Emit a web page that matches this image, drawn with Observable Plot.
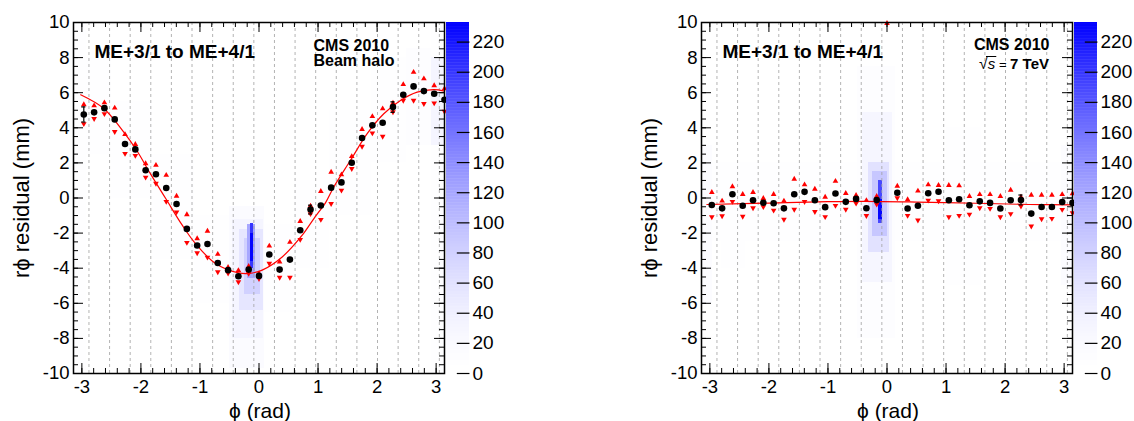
<!DOCTYPE html>
<html><head><meta charset="utf-8">
<script src="https://cdn.jsdelivr.net/npm/d3@7"></script>
<script src="https://cdn.jsdelivr.net/npm/@observablehq/plot@0.6"></script>
<style>
body{margin:0;background:#fff;}
#root{position:relative;width:1134px;height:421px;overflow:hidden;font-family:"Liberation Sans",Arial,Helvetica,sans-serif;}
#root svg{position:absolute;top:0;overflow:visible;}
</style></head><body><div id="root"></div>
<script>
// ---- data ----
const binCentersDeg = [-170,-160,-150,-140,-130,-120,-110,-100,-90,-80,-70,-60,-50,-40,-30,-20,-10,0,10,20,30,40,50,60,70,80,90,100,110,120,130,140,150,160,170,180];
const chamberEdgesDeg = [-165,-145,-125,-105,-85,-65,-45,-25,-5,15,35,55,75,95,115,135,155,175];

const leftMean = [4.76,4.88,5.12,4.48,3.08,2.77,1.58,1.35,0.57,-0.34,-1.76,-2.71,-2.62,-3.70,-4.11,-4.46,-4.08,-4.44,-3.22,-4.08,-3.51,-1.84,-0.66,-0.43,0.59,0.89,2.01,3.42,4.14,4.29,5.18,5.88,6.36,6.09,5.94,5.60];
const leftUp   = [5.32,5.26,5.43,5.13,3.62,3.06,1.96,1.87,1.30,0.11,-0.94,-2.31,-1.88,-3.20,-3.95,-4.13,-3.89,-4.30,-2.73,-3.64,-2.52,-1.33,-0.45,0.38,1.48,1.33,2.37,3.91,4.65,5.09,5.41,6.47,7.17,6.80,6.41,6.23];
const leftDown = [4.23,4.52,4.80,3.78,2.53,2.42,1.18,0.83,-0.20,-0.80,-2.54,-3.13,-3.38,-4.21,-4.28,-4.78,-4.30,-4.60,-3.73,-4.53,-4.53,-2.37,-0.90,-1.23,-0.32,0.44,1.67,2.94,3.70,3.51,4.90,5.56,5.56,5.37,5.41,4.93];
const leftErr  = [0.43,0.07,0.07,0.07,0.07,0.07,0.07,0.07,0.07,0.07,0.07,0.07,0.07,0.07,0.07,0.07,0.07,0.07,0.07,0.07,0.07,0.07,0.25,0.07,0.07,0.07,0.07,0.07,0.07,0.07,0.30,0.07,0.07,0.07,0.07,0.07];
const leftFitPhi = [-3.02,-2.63,-2.29,-2.06,-1.84,-1.58,-1.30,-1.075,-0.737,-0.342,-0.17,0.054,0.393,0.732,0.93,1.13,1.267,1.55,1.832,2.113,2.396,2.679,2.96,3.14];
const leftFitVal = [5.88,5.10,3.75,2.65,1.39,-0.03,-1.55,-2.60,-3.73,-4.27,-4.30,-4.11,-3.36,-2.12,-1.17,-0.25,0.63,2.15,3.67,4.80,5.56,6.03,6.17,6.09];

const rightMean = [-0.40,-0.59,0.21,-0.44,-0.13,-0.27,-0.30,-0.59,0.21,0.35,-0.13,-0.52,0.26,-0.22,-0.05,-0.58,-0.12,null,0.30,-0.60,-0.44,0.27,0.36,-0.13,-0.07,-0.41,-0.19,-0.28,-0.60,-0.13,-0.11,-0.89,-0.51,-0.51,-0.23,-0.28];
const rightUp   = [0.32,-0.17,0.65,0.21,0.32,-0.02,0.21,-0.17,1.08,0.76,0.51,0.05,0.96,0.27,0.15,-0.14,0.10,9.95,0.68,-0.09,0.40,0.76,0.72,0.72,0.70,0.10,0.20,0.20,0.10,0.45,0.05,0.17,0.17,0.17,0.20,0.25];
const rightDown = [-1.08,-1.02,-0.20,-1.05,-0.57,-0.50,-0.70,-1.22,-0.65,-0.21,-0.78,-1.07,-0.43,-0.65,-0.30,-1.01,-0.35,null,0.00,-1.00,-1.26,-0.13,-0.17,-1.08,-1.00,-0.93,-0.57,-0.60,-1.08,-0.90,-0.47,-1.61,-1.19,-1.17,-0.66,-0.85];
const rightErr  = [0.12,0.06,0.06,0.06,0.06,0.06,0.06,0.06,0.06,0.06,0.06,0.06,0.06,0.06,0.06,0.06,0.06,0.06,0.06,0.06,0.06,0.06,0.06,0.06,0.06,0.06,0.06,0.06,0.06,0.06,0.28,0.06,0.06,0.06,0.06,0.06];
const rightFitPhi = [-3.05,-2.0,-1.0,-0.4,0.5,1.5,2.4,3.14];
const rightFitVal = [-0.37,-0.29,-0.21,-0.19,-0.23,-0.30,-0.37,-0.39];

// 2D histogram regions: [phi1, phi2, resid1, resid2, entries]
const leftCells = [
  [-3.14,-2.92,-10,10,8],[2.92,3.14,-10,10,8],
  [-3.14,-2.5,2.5,8,8],[-2.5,-1.8,0,5.5,7],[-1.8,-1.1,-3.5,2.5,7],[-1.1,-0.5,-6,-1,8],
  [0.1,0.6,-6.5,-1.5,8],[0.6,1.2,-4,1,7],[1.2,1.9,-1,5,8],[1.9,2.5,2,8,8],[2.5,2.92,3,8.5,12],[2.92,3.14,3,8,30],
  [-0.5,0.1,-9.7,-0.5,18],[-0.45,0.08,-8,-1.2,30],[-0.33,0.08,-6.4,-1.8,55],[-0.25,0.03,-5.5,-2.3,80],
  [-0.2,-0.06,-4.6,-1.5,120],[-0.144,-0.088,-4.0,-1.45,200],[-0.144,-0.088,-3.6,-2.0,230]
];
const rightCells = [
  [-3.14,3.14,-2.5,2,5],[-3.14,-2.95,-6,3,15],[2.95,3.14,-5,3,15],[-2.8,-2.4,-4,2,6],[1.0,1.6,-5,4,6],
  [-0.5,0.15,-8,7.5,12],[-0.42,0.1,-4.8,4.9,28],[-0.32,0.05,-3.1,2.0,60],[-0.25,0.0,-2.2,1.5,90],
  [-0.15,-0.07,-1.48,0.99,190],[-0.15,-0.07,-1.2,-0.1,230]
];

const yTickLabels = [-10,-8,-6,-4,-2,0,2,4,6,8,10];
const xTickLabels = [-3,-2,-1,0,1,2,3];
const colorbarTicks = [0,20,40,60,80,100,120,140,160,180,200,220];
const colorMax = 233;

// ---- drawing ----
const FONT = "Liberation Sans, Arial, Helvetica, DejaVu Sans, sans-serif";
const deg = Math.PI / 180;
const W = 371, H = 351;
const colorOpts = {type: "pow", exponent: 1.6, domain: [0, colorMax], clamp: true,
  interpolate: t => d3.interpolateRgb("#ffffff", "#0000ff")(t)};
const yMinor = d3.range(-10, 10.001, 0.5);
const xMinor = d3.range(-3.2, 3.21, 0.2).filter(v => Math.abs(v) <= Math.PI);

function panel(o) {
  const pts = binCentersDeg.map((d, i) => ({phi: d * deg, mean: o.mean[i], up: o.up[i], down: o.down[i], err: o.err[i]}));
  const ptsM = pts.filter(d => d.mean != null);
  const cells = o.cells.map(([a, b, c, d, n]) => ({x1: a, x2: b, y1: c, y2: d, n}));
  const fit = o.fitPhi.map((p, i) => ({phi: p, v: o.fitVal[i]}));
  const txt = (s, opt) => Plot.text([s], Object.assign({text: d => d, fill: "black", fontFamily: FONT}, opt));
  return Plot.plot({
    width: 446, height: 421, marginLeft: 73, marginRight: 2, marginTop: 22, marginBottom: 48,
    style: {fontFamily: FONT, background: "transparent", overflow: "visible", maxWidth: "none"},
    x: {domain: [-Math.PI, Math.PI]},
    y: {domain: [-10, 10]},
    color: colorOpts,
    marks: [
      Plot.rect(cells, {x1: "x1", x2: "x2", y1: "y1", y2: "y2", fill: "n", shapeRendering: "crispEdges"}),
      Plot.ruleX(chamberEdgesDeg.map(d => d * deg), {stroke: "#a0a0a0", strokeDasharray: "3,3", strokeWidth: 0.8}),
      Plot.line(fit, {x: "phi", y: "v", stroke: "#ff0000", strokeWidth: 1.2, curve: "catmull-rom"}),
      Plot.dot(pts.filter(d => d.up != null), {x: "phi", y: "up", symbol: "triangle", r: 2.1, fill: "#ff0000", stroke: "none"}),
      Plot.dot(pts.filter(d => d.down != null), {x: "phi", y: "down", symbol: "triangle", r: 2.1, fill: "#ff0000", stroke: "none", rotate: 180}),
      Plot.ruleX(ptsM, {x: "phi", y1: d => d.mean - d.err, y2: d => d.mean + d.err, stroke: "black", strokeWidth: 1.2}),
      Plot.ruleY(ptsM.filter(d => d.err > 0.15), {y: d => d.mean + d.err, x1: d => d.phi - 0.035, x2: d => d.phi + 0.035, stroke: "black", strokeWidth: 1.2}),
      Plot.ruleY(ptsM.filter(d => d.err > 0.15), {y: d => d.mean - d.err, x1: d => d.phi - 0.035, x2: d => d.phi + 0.035, stroke: "black", strokeWidth: 1.2}),
      Plot.dot(ptsM, {x: "phi", y: "mean", r: 3.3, fill: "black", stroke: "none"}),
      ...o.texts.map(t => txt(t.s, t.opt)),
      // frame ticks (inward)
      Plot.ruleY(yMinor, {y: d => d, insetRight: W - 5, stroke: "black"}),
      Plot.ruleY(yTickLabels, {y: d => d, insetRight: W - 10, stroke: "black"}),
      Plot.ruleY(yMinor, {y: d => d, insetLeft: W - 5, stroke: "black"}),
      Plot.ruleY(yTickLabels, {y: d => d, insetLeft: W - 10, stroke: "black"}),
      Plot.ruleX(xMinor, {x: d => d, insetTop: H - 5, stroke: "black"}),
      Plot.ruleX(xTickLabels, {x: d => d, insetTop: H - 10, stroke: "black"}),
      Plot.ruleX(xMinor, {x: d => d, insetBottom: H - 5, stroke: "black"}),
      Plot.ruleX(xTickLabels, {x: d => d, insetBottom: H - 10, stroke: "black"}),
      Plot.frame({stroke: "black", strokeWidth: 1.5}),
      Plot.axisY(yTickLabels, {anchor: "left", tickSize: 0, tickPadding: 4, fontSize: 18.5, label: null, tickFormat: d => String(d), fill: "black"}),
      Plot.axisX(xTickLabels, {anchor: "bottom", tickSize: 0, tickPadding: 6, fontSize: 18.5, label: null, tickFormat: d => String(d), fill: "black"}),
      txt("r\u03D5 residual (mm)", {frameAnchor: "left", dx: -45, rotate: -90, textAnchor: "middle", lineAnchor: "bottom", fontSize: 22}),
      txt("\u03D5 (rad)", {frameAnchor: "bottom", dx: 1, dy: 44, textAnchor: "middle", lineAnchor: "bottom", fontSize: 21})
    ]
  });
}

function colorbar() {
  const levels = d3.range(0, colorMax, 1);
  return Plot.plot({
    width: 62, height: 421, marginLeft: 0, marginRight: 39, marginTop: 22, marginBottom: 48,
    style: {fontFamily: FONT, background: "transparent", overflow: "visible", maxWidth: "none"},
    x: {domain: [0, 1], axis: null},
    y: {domain: [0, colorMax], axis: null},
    color: colorOpts,
    marks: [
      Plot.rect(levels, {x1: 0, x2: 1, y1: d => d, y2: d => Math.min(colorMax, d + 1.3), fill: d => d + 0.5}),
      Plot.ruleY(colorbarTicks, {y: d => d, x1: 0.47, x2: 1.02, stroke: "black", strokeWidth: 1.2}),
      Plot.axisY(colorbarTicks, {anchor: "right", tickSize: 0, tickPadding: 3, fontSize: 19, label: null, tickFormat: d => String(d), fill: "black"})
    ]
  });
}

const root = document.getElementById("root");
const p1 = panel({mean: leftMean, up: leftUp, down: leftDown, err: leftErr, cells: leftCells, fitPhi: leftFitPhi, fitVal: leftFitVal,
  texts: [
    {s: "ME+3/1 to ME+4/1", opt: {frameAnchor: "top-left", dx: 21, dy: 35, textAnchor: "start", lineAnchor: "bottom", fontSize: 19, fontWeight: "bold"}},
    {s: "CMS 2010", opt: {frameAnchor: "top-left", dx: 240, dy: 28, textAnchor: "start", lineAnchor: "bottom", fontSize: 16, fontWeight: "bold"}},
    {s: "Beam halo", opt: {frameAnchor: "top-left", dx: 240, dy: 43, textAnchor: "start", lineAnchor: "bottom", fontSize: 16, fontWeight: "bold"}}
  ]});
const p2 = panel({mean: rightMean, up: rightUp, down: rightDown, err: rightErr, cells: rightCells, fitPhi: rightFitPhi, fitVal: rightFitVal,
  texts: [
    {s: "ME+3/1 to ME+4/1", opt: {frameAnchor: "top-left", dx: 21, dy: 35, textAnchor: "start", lineAnchor: "bottom", fontSize: 19, fontWeight: "bold"}},
    {s: "CMS 2010", opt: {frameAnchor: "top-right", dx: -23, dy: 27, textAnchor: "end", lineAnchor: "bottom", fontSize: 16, fontWeight: "bold"}}
  ]});
const c1 = colorbar(), c2 = colorbar();
p1.style.left = "0px"; p2.style.left = "628px";
c1.style.left = "446px"; c2.style.left = "1074px";
[p1, p2, c1, c2].forEach(s => root.appendChild(s));

// sqrt(s) = 7 TeV label on the right panel
const BASE = 69;
const t = d3.select(p2).append("text").attr("x", 421).attr("y", BASE).attr("text-anchor", "end")
  .attr("font-family", FONT).attr("font-size", 15).attr("font-weight", "bold").attr("fill", "black");
t.append("tspan").attr("font-weight", "normal").attr("font-size", 16).text("√");
t.append("tspan").attr("font-style", "italic").attr("font-weight", "normal").text("s");
t.append("tspan").attr("font-weight", "normal").attr("font-size", 13).text(" = ");
t.append("tspan").text("7 TeV");
try {
  const n = t.node();
  const a = n.getStartPositionOfChar(0), b = n.getEndPositionOfChar(1);
  d3.select(p2).append("line").attr("x1", a.x + 7).attr("x2", b.x + 1).attr("y1", BASE - 12.5).attr("y2", BASE - 12.5)
    .attr("stroke", "black").attr("stroke-width", 1);
} catch (e) {}
</script>
</body></html>
